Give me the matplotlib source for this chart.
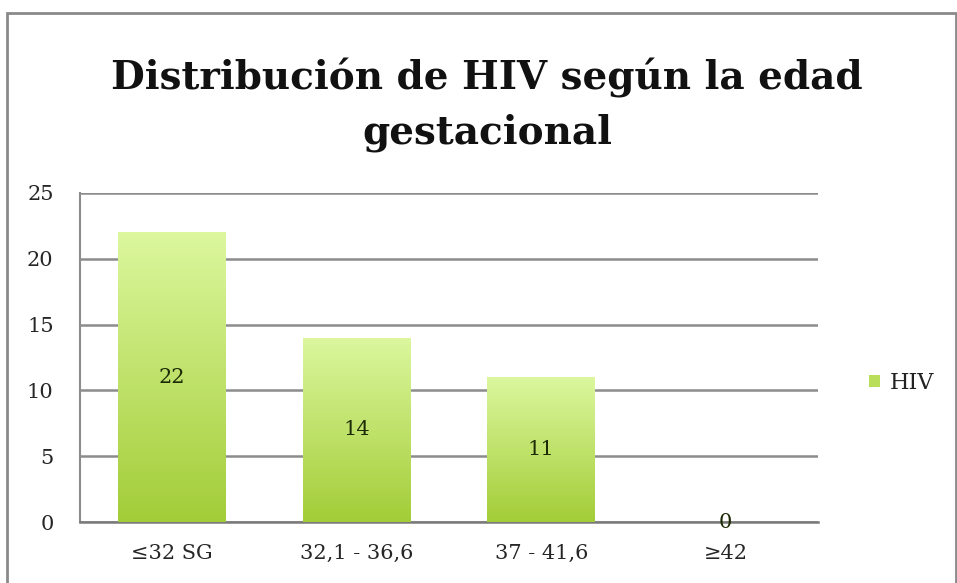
import numpy as np
import matplotlib
matplotlib.use("Agg")
import matplotlib.pyplot as plt
import matplotlib.patches as mpatches
from matplotlib.colors import LinearSegmentedColormap

# datos del grafico
categorias = ["≤32 SG", "32,1 - 36,6", "37 - 41,6", "≥42"]
valores = [22, 14, 11, 0]
serie = "HIV"
titulo = "Distribución de HIV según la edad\ngestacional"
yticks = [0, 5, 10, 15, 20, 25]

SERIF = ["DejaVu Serif"]
plt.rcParams["font.family"] = SERIF

W, H = 957, 583
fig = plt.figure(figsize=(W / 100, H / 100), dpi=100)
fig.patch.set_facecolor("white")

# marco exterior
marco = mpatches.Rectangle((7 / W, -0.05), (956 - 7) / W, (H - 13) / H + 0.05,
                           transform=fig.transFigure, fill=False,
                           edgecolor="#8a8a8a", linewidth=2.0)
fig.patches.append(marco)

ax = fig.add_axes([80 / W, (H - 522) / H, (818 - 80) / W, (522 - 193) / H])
x = np.arange(len(categorias))
barras = ax.bar(x, valores, width=0.585, color="none", zorder=3)

# degradado verde de cada barra
cmap = LinearSegmentedColormap.from_list("verde", ["#a3cd38", "#dcf79e"])
grad = np.linspace(0, 1, 256).reshape(-1, 1)
for b in barras:
    if b.get_height() <= 0:
        continue
    x0, w, h = b.get_x(), b.get_width(), b.get_height()
    im = ax.imshow(grad, cmap=cmap, origin="lower", aspect="auto",
                   extent=[x0, x0 + w, 0, h], zorder=3)
    im.set_clip_path(b)

ax.set_xlim(-0.5, len(categorias) - 0.5)
ax.set_ylim(0, 25)
ax.set_yticks(yticks)
ax.set_xticks(x)
ax.set_xticklabels(categorias)
ax.tick_params(axis="both", length=0, labelsize=15, colors="#262626")
ax.tick_params(axis="y", pad=19)
ax.tick_params(axis="x", pad=16)
ax.yaxis.grid(True, color="#8c8c8c", linewidth=1.8, zorder=1)
ax.set_axisbelow(True)
for lado in ["top", "right"]:
    ax.spines[lado].set_visible(False)
ax.spines["left"].set_color("#8c8c8c")
ax.spines["left"].set_linewidth(1.5)
ax.spines["bottom"].set_color("#7a7a7a")
ax.spines["bottom"].set_linewidth(1.8)

ax.bar_label(barras, labels=[str(v) for v in valores], label_type="center",
             fontsize=15, color="#1c2a05", zorder=5)

fig.text(487 / W, 1 - 105 / H, titulo, ha="center", va="center",
         fontsize=28, fontweight="bold", color="#111111", linespacing=1.5)

handle = mpatches.Patch(facecolor="#b8de5c", edgecolor="none", label=serie)
fig.legend(handles=[handle], loc="center left",
           bbox_to_anchor=(849 / W, 1 - 383 / H), frameon=False,
           fontsize=16, handlelength=0.5, handleheight=0.5, handletextpad=0.45,
           labelcolor="#222222")

fig.savefig("out.png", dpi=100)
